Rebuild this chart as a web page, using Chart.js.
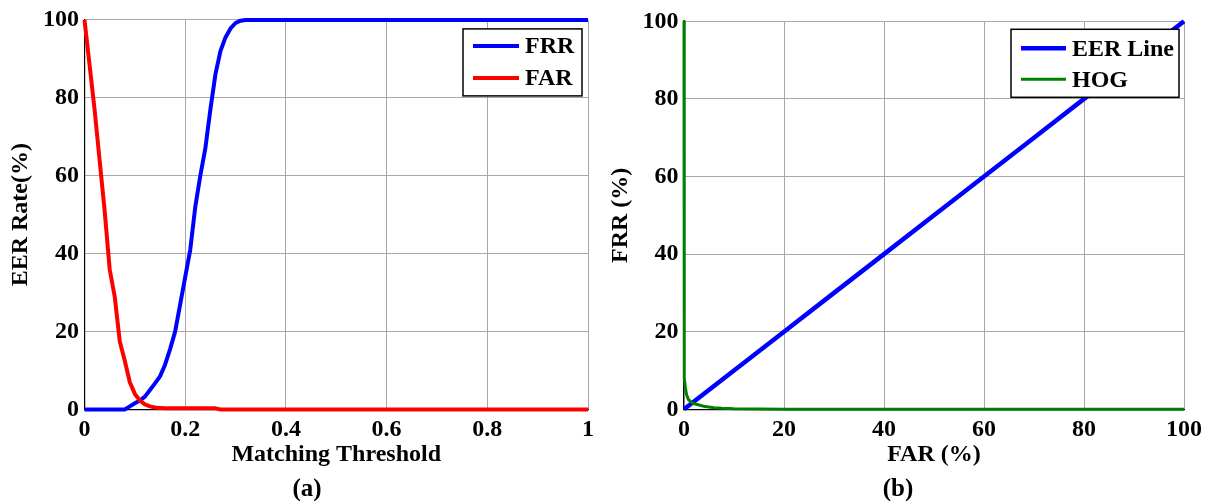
<!DOCTYPE html>
<html>
<head>
<meta charset="utf-8">
<script src="https://cdn.jsdelivr.net/npm/chart.js@4/dist/chart.umd.min.js"></script>
<style>
  html, body { margin: 0; padding: 0; background: #fff; }
  #wrap { position: relative; width: 1212px; height: 501px; overflow: hidden; background: #fff; }
  canvas { position: absolute; top: 0; }
  .cap { position: absolute; width: 100px; text-align: center; font: bold 25px "Liberation Serif", "Times New Roman", serif; line-height: 30px; color: #000; top: 473px; }
</style>
</head>
<body>
<div id="wrap">
  <canvas id="c1" width="600" height="501" style="left:0"></canvas>
  <canvas id="c2" width="612" height="501" style="left:600px"></canvas>
  <div class="cap" style="left:257px">(a)</div>
  <div class="cap" style="left:848px">(b)</div>
</div>
<script>
// ---- Data: panel (a) ----
const frrThreshold = [0, 0.02, 0.04, 0.06, 0.08, 0.09, 0.10, 0.11, 0.12, 0.13, 0.14, 0.15, 0.16, 0.17, 0.18, 0.19, 0.20, 0.21, 0.22, 0.23, 0.24, 0.25, 0.26, 0.27, 0.28, 0.29, 0.30, 0.31, 0.32, 0.5, 1.0];
const frrValues    = [0, 0, 0, 0, 0, 0.8, 1.6, 2.3, 3.3, 5, 6.7, 8.5, 11.5, 15.5, 20, 27, 34, 41, 52, 60, 67, 77, 86, 92, 95.5, 97.8, 99.2, 99.8, 100, 100, 100];
const farThreshold = [0, 0.01, 0.02, 0.03, 0.04, 0.05, 0.06, 0.07, 0.08, 0.09, 0.10, 0.11, 0.12, 0.13, 0.14, 0.15, 0.16, 0.20, 0.26, 0.27, 0.5, 1.0];
const farValues    = [100, 88.5, 77, 64, 51, 36, 29, 17.5, 12.5, 7, 4, 2.3, 1.3, 0.8, 0.5, 0.4, 0.3, 0.3, 0.3, 0, 0, 0];
const xTicksA = [0, 0.2, 0.4, 0.6, 0.8, 1];

// ---- Data: panel (b) ----
const eerFar = [0, 10, 20, 30, 40, 50, 60, 70, 80, 90, 100];
const eerFrr = [0, 10, 20, 30, 40, 50, 60, 70, 80, 90, 100];
const hogFar = [0, 0, 0.1, 0.25, 0.5, 0.9, 1.4, 1.9, 3, 4.2, 6, 7.6, 10, 15, 20, 50, 100];
const hogFrr = [100, 12, 8, 5.8, 3.8, 2.5, 1.9, 1.5, 1.1, 0.7, 0.4, 0.25, 0.12, 0.05, 0, 0, 0];
const yTicks = [0, 20, 40, 60, 80, 100];

const FONT = '"Liberation Serif", "Times New Roman", serif';
const zip = (xs, ys) => xs.map((x, i) => ({x, y: ys[i]}));

const boxLegend = {
  id: 'boxLegend',
  afterDatasetsDraw(chart, args, o) {
    const {ctx, chartArea} = chart;
    const left = chartArea.right - o.rightGap - o.width;
    const top = chartArea.top + o.topGap;
    ctx.save();
    ctx.fillStyle = '#fff';
    ctx.fillRect(left, top, o.width, o.height);
    ctx.strokeStyle = '#000';
    ctx.lineWidth = 1.5;
    ctx.strokeRect(left, top, o.width, o.height);
    ctx.font = 'bold 24px ' + FONT;
    ctx.textBaseline = 'middle';
    ctx.fillStyle = '#000';
    const ds = chart.data.datasets.slice().sort((a, b) => a.legendIndex - b.legendIndex);
    ds.forEach((d, i) => {
      const y = top + o.rows[i];
      ctx.strokeStyle = d.borderColor;
      ctx.lineWidth = d.borderWidth;
      ctx.beginPath();
      ctx.moveTo(left + o.lineFrom, y);
      ctx.lineTo(left + o.lineTo, y);
      ctx.stroke();
      ctx.fillText(d.label, left + o.textX, y + 1);
    });
    ctx.restore();
  }
};

function makeScales(xMin, xMax, xTitle, yTitle, yWidth, xHeight, xTickVals) {
  const tickFont = {family: FONT, size: 24, weight: 'bold'};
  return {
    x: {
      type: 'linear', min: xMin, max: xMax,
      afterBuildTicks: s => { s.ticks = xTickVals.map(v => ({value: v})); },
      afterFit: s => { s.height = xHeight; },
      ticks: {font: tickFont, color: '#000', padding: 6, maxRotation: 0, callback: v => String(v)},
      grid: {color: '#a8a8a8', lineWidth: 1, drawTicks: false},
      border: {color: '#000', width: 1.2},
      title: {display: true, text: xTitle, color: '#000', font: tickFont, padding: {top: 0, bottom: 31.6}}
    },
    y: {
      type: 'linear', min: 0, max: 100,
      afterBuildTicks: s => { s.ticks = yTicks.map(v => ({value: v})); },
      afterFit: s => { s.width = yWidth; },
      ticks: {font: tickFont, color: '#000', padding: 5.5, callback: v => String(v)},
      grid: {color: '#a8a8a8', lineWidth: 1, drawTicks: false},
      border: {color: '#000', width: 1.2},
      title: {display: true, text: yTitle, color: '#000', font: tickFont, padding: {top: 6.5, bottom: 0}}
    }
  };
}

const common = {
  responsive: false, animation: false, devicePixelRatio: 1,
  plugins: {legend: {display: false}, tooltip: {enabled: false}},
  elements: {point: {radius: 0}, line: {tension: 0, borderCapStyle: 'butt', borderJoinStyle: 'round'}}
};

new Chart(document.getElementById('c1'), {
  type: 'line',
  data: {
    datasets: [
      {label: 'FAR', data: zip(farThreshold, farValues), borderColor: '#ff0000', borderWidth: 4, order: 0, clip: 6, legendIndex: 1},
      {label: 'FRR', data: zip(frrThreshold, frrValues), borderColor: '#0000ff', borderWidth: 4, order: 1, clip: 6, legendIndex: 0}
    ]
  },
  options: Object.assign({}, common, {
    layout: {padding: {left: 0, right: 11, top: 18, bottom: 0}},
    scales: makeScales(0, 1, 'Matching Threshold', 'EER Rate(%)', 84.5, 91.5, xTicksA),
    plugins: Object.assign({}, common.plugins, {
      boxLegend: {width: 119, height: 67, rightGap: 6, topGap: 9, lineFrom: 10, lineTo: 56, textX: 62, rows: [17, 49]}
    })
  }),
  plugins: [boxLegend]
});

new Chart(document.getElementById('c2'), {
  type: 'line',
  data: {
    datasets: [
      {label: 'HOG', data: zip(hogFar, hogFrr), borderColor: '#008000', borderWidth: 3, order: 0, clip: 6, legendIndex: 1},
      {label: 'EER Line', data: zip(eerFar, eerFrr), borderColor: '#0000ff', borderWidth: 4.5, order: 1, clip: 6, legendIndex: 0}
    ]
  },
  options: Object.assign({}, common, {
    layout: {padding: {left: 0, right: 28, top: 21.3, bottom: 0}},
    scales: makeScales(0, 100, 'FAR (%)', 'FRR (%)', 84, 91.7, yTicks),
    plugins: Object.assign({}, common.plugins, {
      boxLegend: {width: 168, height: 68, rightGap: 5, topGap: 8, lineFrom: 10, lineTo: 55, textX: 61, rows: [19, 50]}
    })
  }),
  plugins: [boxLegend]
});
</script>
</body>
</html>
